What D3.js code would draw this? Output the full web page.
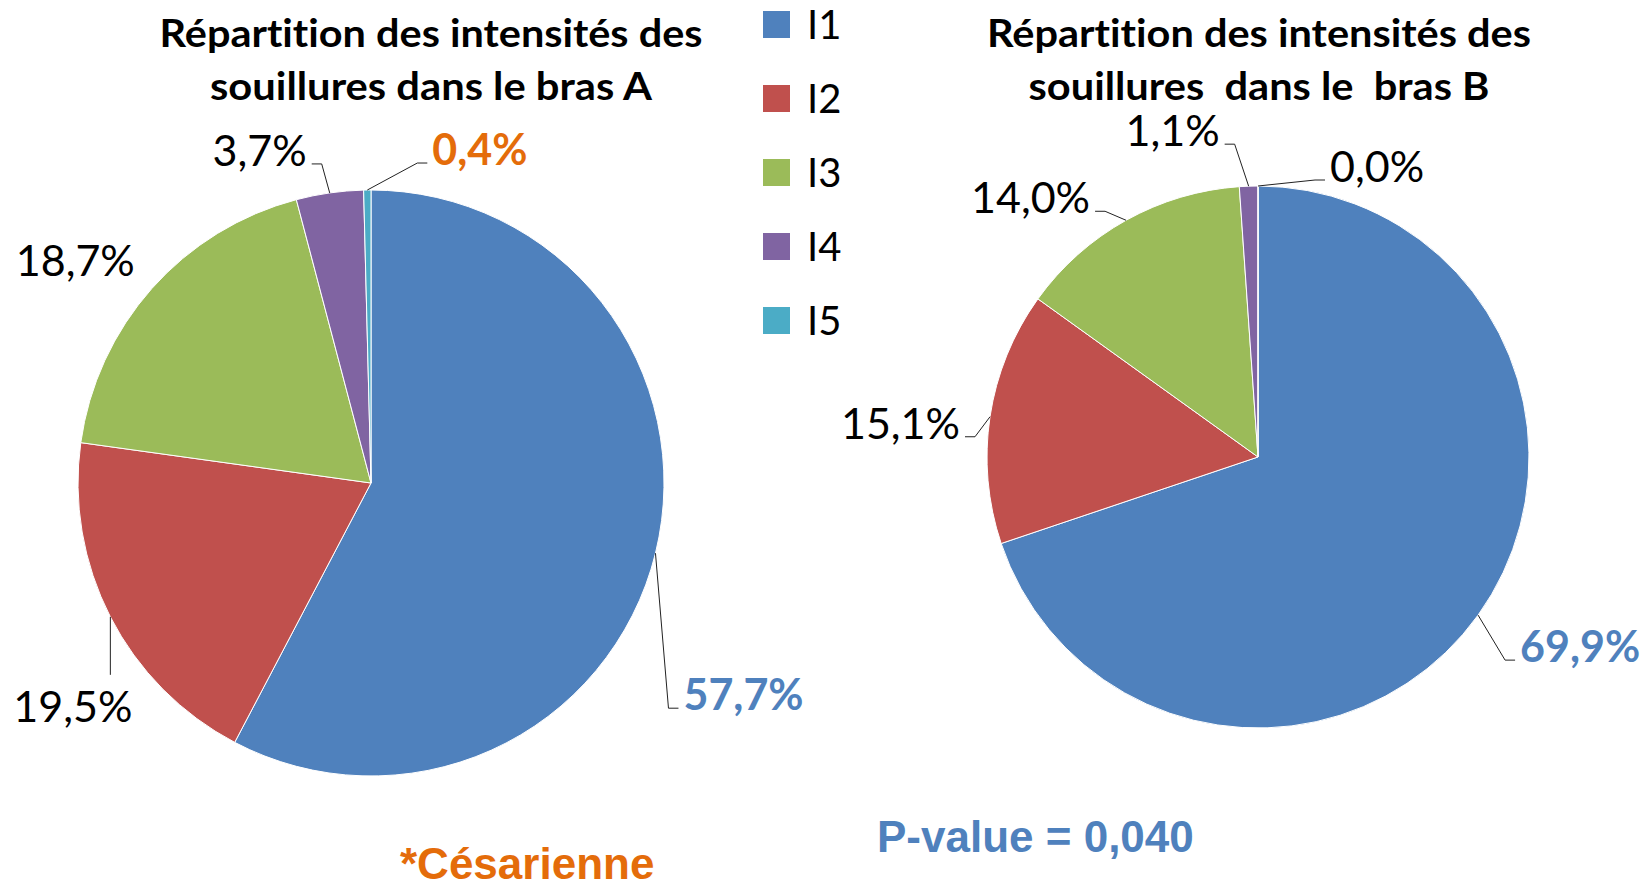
<!DOCTYPE html>
<html>
<head>
<meta charset="utf-8">
<script src="https://cdn.jsdelivr.net/npm/d3@7"></script>
<style>
  html, body { margin: 0; padding: 0; background: #fff; }
  svg { display: block; }
  text { white-space: pre; font-variant-ligatures: none; font-feature-settings: "liga" 0, "clig" 0; }
</style>
</head>
<body>
<svg id="canvas"></svg>
<script>
// data
let categories = ['I1', 'I2', 'I3', 'I4', 'I5']
let valuesA = [57.7, 19.5, 18.7, 3.7, 0.4]
let valuesB = [69.9, 15.1, 14.0, 1.1, 0.0]
let titleA = ['Répartition des intensités des', 'souillures dans le bras A']
let titleB = ['Répartition des intensités des', 'souillures  dans le  bras B']
let pValueText = 'P-value = 0,040'
let noteText = '*Césarienne'

let colors = ['#4F81BD', '#C0504D', '#9BBB59', '#8064A2', '#4BACC6']
let blueText = '#4F81BD'
let orange = '#E46C0A'

let width = 1650
let height = 890

// leader / label placement for each slice (offsets from the slice edge)
let layoutA = [
    {dx: 13, dy: 155, side: 1, weight: 'bold', color: blueText},
    {dx: 0, dy: 58, side: 0, weight: 'normal', color: '#000'},
    {side: -2, weight: 'normal', color: '#000'},
    {dx: -8, dy: -29, side: -1, weight: 'normal', color: '#000'},
    {dx: 50, dy: -27, side: 1, weight: 'bold', color: orange}
]
let layoutB = [
    {dx: 27, dy: 45, side: 1, weight: 'bold', color: blueText},
    {dx: -15, dy: 20, side: -1, weight: 'normal', color: '#000'},
    {dx: -21, dy: -9, side: -1, weight: 'normal', color: '#000'},
    {dx: -14, dy: -42, side: -1, weight: 'normal', color: '#000'},
    {dx: 57, dy: -6, side: 1, weight: 'normal', color: '#000'}
]

let fr = d3.formatLocale({decimal: ',', thousands: ' ', grouping: [3], currency: ['', ' €']})
let fmt = fr.format('.1f')

let svg = d3.select('#canvas')
            .attr('width', width)
            .attr('height', height)

let drawTitle = (lines, cx, widths) => {
    lines.forEach((line, i) => {
        svg.append('text')
           .attr('x', cx)
           .attr('y', 47 + i * 53)
           .attr('text-anchor', 'middle')
           .attr('textLength', widths[i])
           .attr('lengthAdjust', 'spacingAndGlyphs')
           .style('font-family', 'Lato, sans-serif')
           .style('font-weight', 'bold')
           .style('font-size', '39px')
           .attr('fill', '#000')
           .text(line)
    })
}

let drawPie = (values, cx, cy, r, layout) => {
    let pie = d3.pie().sort(null).value(d => d)
    let arcs = pie(values)
    let arc = d3.arc().innerRadius(0).outerRadius(r)
    let edge = d3.arc().innerRadius(r).outerRadius(r)

    let g = svg.append('g').attr('transform', `translate(${cx},${cy})`)

    g.selectAll('path')
     .data(arcs)
     .enter()
     .append('path')
     .attr('d', arc)
     .attr('fill', (d, i) => colors[i])
     .attr('stroke', '#fff')
     .attr('stroke-width', 1)

    arcs.forEach((d, i) => {
        let lay = layout[i]
        let p = edge.centroid(d)
        let label = fmt(d.data) + '%'
        let tx, ty, anchor
        let pts = null
        if (lay.side === 1 || lay.side === -1) {
            let elbow = [p[0] + lay.dx, p[1] + lay.dy]
            let end = [elbow[0] + lay.side * 10, elbow[1]]
            pts = [p, elbow, end]
            tx = end[0] + lay.side * 5
            ty = elbow[1] + 2
            anchor = lay.side === 1 ? 'start' : 'end'
        } else if (lay.side === 0) {
            let elbow = [p[0] + lay.dx, p[1] + lay.dy]
            pts = [p, elbow]
            tx = elbow[0] + 22
            ty = elbow[1] + 47
            anchor = 'end'
        } else {
            tx = p[0] - 17
            ty = p[1] - 13
            anchor = 'end'
        }
        if (pts) {
            g.append('path')
             .attr('d', d3.line()(pts))
             .attr('fill', 'none')
             .attr('stroke', '#222')
             .attr('stroke-width', 1)
        }
        g.append('text')
         .attr('x', tx)
         .attr('y', ty)
         .attr('text-anchor', anchor)
         .style('font-family', 'Lato, sans-serif')
         .style('font-weight', lay.weight)
         .style('font-size', '43px')
         .attr('fill', lay.color)
         .text(label)
    })
}

let drawLegend = () => {
    let legend = svg.append('g').attr('id', 'legend')
    let item = legend.selectAll('g')
                     .data(categories)
                     .enter()
                     .append('g')
                     .attr('transform', (d, i) => `translate(763,${11 + i * 74})`)
    item.append('rect')
        .attr('width', 27)
        .attr('height', 27)
        .attr('fill', (d, i) => colors[i])
    item.append('text')
        .attr('x', 44)
        .attr('y', 28)
        .style('font-family', 'Lato, sans-serif')
        .style('font-size', '40px')
        .attr('fill', '#000')
        .text(d => d)
}

drawTitle(titleA, 431, [543, 442])
drawTitle(titleB, 1259, [544, 461])
drawPie(valuesA, 371, 483, 293, layoutA)
drawPie(valuesB, 1258, 457, 271, layoutB)
drawLegend()

svg.append('text')
   .attr('x', 877)
   .attr('y', 852)
   .style('font-family', '"Liberation Sans", Arial, sans-serif')
   .style('font-weight', 'bold')
   .style('font-size', '44px')
   .attr('fill', blueText)
   .text(pValueText)

svg.append('text')
   .attr('x', 400)
   .attr('y', 879)
   .style('font-family', '"Liberation Sans", Arial, sans-serif')
   .style('font-weight', 'bold')
   .style('font-size', '44px')
   .attr('fill', orange)
   .text(noteText)
</script>
</body>
</html>
